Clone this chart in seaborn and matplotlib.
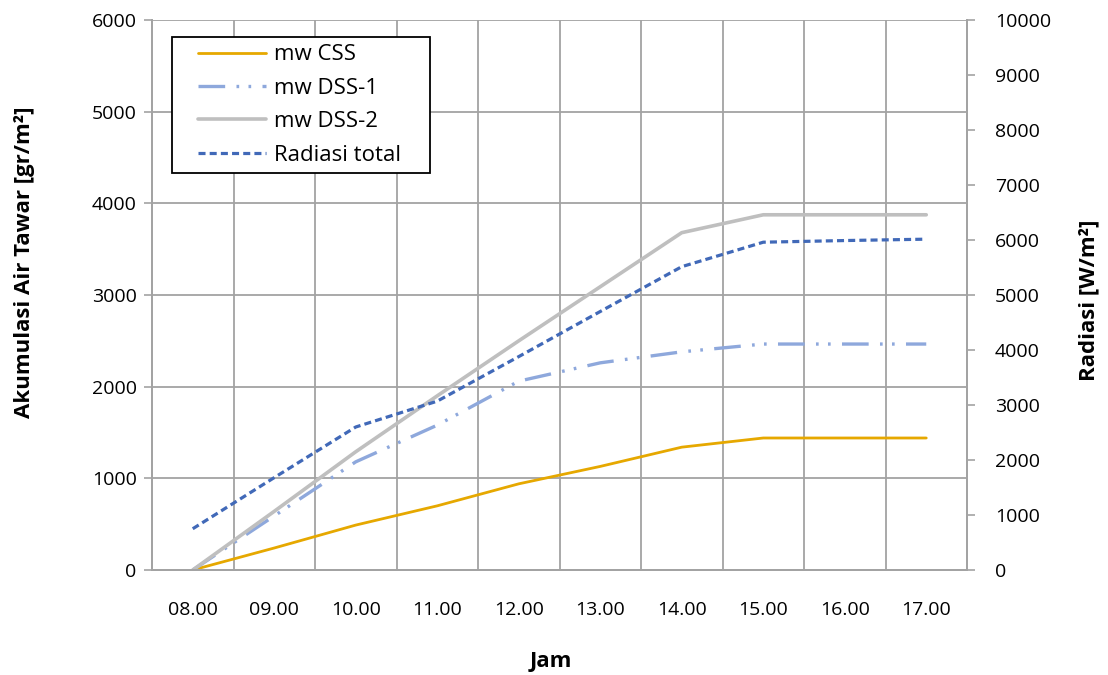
import numpy as np
import pandas as pd
import matplotlib
matplotlib.use("Agg")
import matplotlib.pyplot as plt
from matplotlib.legend_handler import HandlerLine2D
import seaborn as sns

# Hourly readings
jam = ["08.00", "09.00", "10.00", "11.00", "12.00",
       "13.00", "14.00", "15.00", "16.00", "17.00"]
mw_css = [0, 240, 490, 700, 940, 1130, 1340, 1440, 1440, 1440]
mw_dss1 = [0, 590, 1180, 1580, 2060, 2260, 2380, 2465, 2465, 2465]
mw_dss2 = [0, 640, 1290, 1900, 2500, 3090, 3680, 3875, 3875, 3875]
radiasi_total = [750, 1680, 2600, 3070, 3880, 4700, 5515, 5960, 5990, 6015]

sns.set_style("white")
plt.rcParams["font.family"] = ["Open Sans", "DejaVu Sans"]
plt.rcParams["text.color"] = "black"
plt.rcParams["xtick.color"] = "black"
plt.rcParams["ytick.color"] = "black"

W, H = 1108, 675
fig = plt.figure(figsize=(W / 100, H / 100), dpi=100)
ax = fig.add_axes([152 / W, 105 / H, 815 / W, 550 / H])
ax2 = ax.twinx()

pos = np.arange(len(jam))
df = pd.DataFrame({
    "pos": pos,
    "mw CSS": mw_css,
    "mw DSS-1": mw_dss1,
    "mw DSS-2": mw_dss2,
    "Radiasi total": radiasi_total,
})

grid_c = "#A3A3A3"
c_css, c_dss1, c_dss2, c_rad = "#E6A800", "#8EA8DC", "#BFBFBF", "#4169B8"

sns.lineplot(data=df, x="pos", y="mw CSS", ax=ax, color=c_css, lw=2.0,
             label="mw CSS", legend=False)
sns.lineplot(data=df, x="pos", y="mw DSS-1", ax=ax, color=c_dss1, lw=2.4,
             label="mw DSS-1", legend=False)
ax.lines[-1].set_dashes((8, 3.4, 0.8, 2.8, 0.8, 3.4))
sns.lineplot(data=df, x="pos", y="mw DSS-2", ax=ax, color=c_dss2, lw=2.6,
             label="mw DSS-2", legend=False)
sns.lineplot(data=df, x="pos", y="Radiasi total", ax=ax2, color=c_rad, lw=2.3,
             label="Radiasi total", legend=False)
ax2.lines[-1].set_dashes((2.2, 1.3))

# Axes ranges
ax.set_xlim(-0.5, len(jam) - 0.5)
ax.set_ylim(0, 6000)
ax2.set_ylim(0, 10000)
ax.set_yticks(np.arange(0, 6001, 1000))
ax2.set_yticks(np.arange(0, 10001, 1000))

# Category axis: tick marks on boundaries, labels at centres
ax.set_xticks(np.arange(-0.5, len(jam), 1))
ax.set_xticklabels([])
ax.set_xticks(pos, minor=True)
ax.set_xticklabels(jam, minor=True)
ax.tick_params(axis="x", which="major", length=6, width=1.2, color=grid_c,
               direction="out")
ax.tick_params(axis="x", which="minor", length=0, pad=22, labelsize=14,
               labelcolor="black")
ax.tick_params(axis="y", length=6, width=1.2, color=grid_c, direction="out",
               pad=5, labelsize=14, labelcolor="black")
ax2.tick_params(axis="y", length=6, width=1.2, color=grid_c, direction="out",
                pad=14, labelsize=14, labelcolor="black")

ax.grid(True, which="major", axis="both", color=grid_c, lw=1.3)
ax.set_axisbelow(True)
ax.set_xlabel("")
ax.set_ylabel("")
ax2.set_ylabel("")

for a in (ax, ax2):
    a.spines["top"].set_visible(False)
    for s in ("left", "bottom", "right"):
        a.spines[s].set_color(grid_c)
        a.spines[s].set_linewidth(1.3)

fig.text(25 / W, 1 - 262 / H, "Akumulasi Air Tawar [gr/m²]", rotation=90,
         ha="center", va="center", fontsize=16, fontweight="bold")
fig.text(1089 / W, 1 - 300 / H, "Radiasi [W/m²]", rotation=90,
         ha="center", va="center", fontsize=16, fontweight="bold")
fig.text(551 / W, 1 - 662 / H, "Jam", ha="center", va="center",
         fontsize=16, fontweight="bold")

handles = ax.lines[:3] + [ax2.lines[-1]]
labels = ["mw CSS", "mw DSS-1", "mw DSS-2", "Radiasi total"]
fs = 16
px = fs * 100 / 72
leg = ax2.legend(handles, labels, loc="upper left",
                 bbox_to_anchor=(20 / 815, 0, 258 / 815, 1 - 17 / 550),
                 mode="expand", borderaxespad=0,
                 fontsize=fs, frameon=True, fancybox=False, framealpha=1,
                 handlelength=(68 + 19) / px, handletextpad=8 / px,
                 labelspacing=0.56, borderpad=0.33,
                 handler_map={h: HandlerLine2D(xpad=19 / px) for h in handles})
leg.get_frame().set_edgecolor("black")
leg.get_frame().set_linewidth(1.3)

fig.savefig("out.png", dpi=100)
